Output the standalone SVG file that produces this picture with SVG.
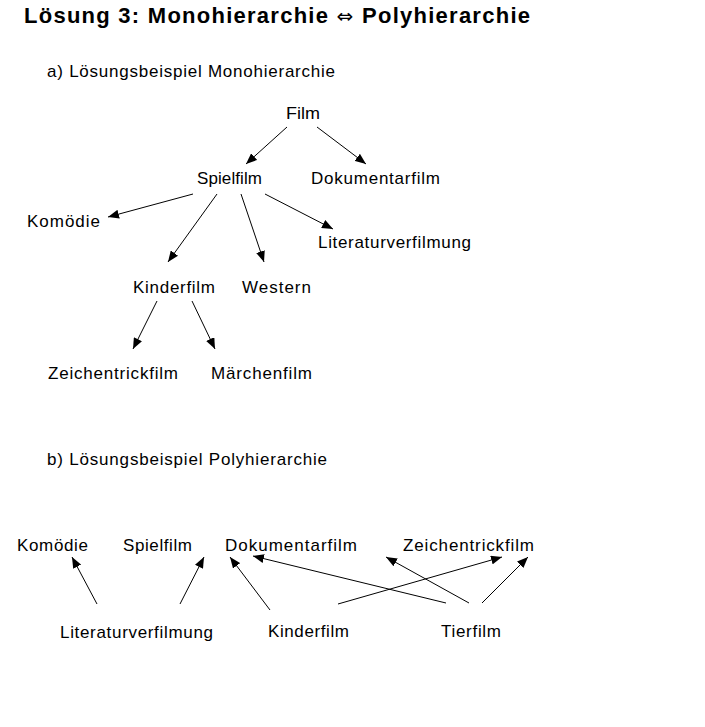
<svg xmlns="http://www.w3.org/2000/svg" width="705" height="727" viewBox="0 0 705 727">
<style>
text{font-family:"Liberation Sans",Arial,sans-serif;fill:#000}
.t{font-size:22px;font-weight:bold}
.ar{font-family:"DejaVu Sans",sans-serif;font-weight:normal;font-size:20px}
.h{font-size:17px}
.n{font-size:17px}
.c line{stroke:#000;stroke-width:1;marker-end:url(#ah)}
</style>
<defs>
<marker id="ah" markerWidth="11" markerHeight="9" refX="11" refY="4.5" orient="auto" markerUnits="userSpaceOnUse">
<path d="M0,0 L11,4.5 L0,9 z" fill="#000"/>
</marker>
</defs>
<rect width="705" height="727" fill="#fff"/>
<text class="t" x="24" y="23" textLength="506" lengthAdjust="spacing">Lösung 3: Monohierarchie <tspan class="ar">⇔</tspan> Polyhierarchie</text>
<text class="h" x="47" y="77" textLength="288" lengthAdjust="spacing">a) Lösungsbeispiel Monohierarchie</text>
<text class="h" x="47" y="465" textLength="280" lengthAdjust="spacing">b) Lösungsbeispiel Polyhierarchie</text>

<g id="a-film"><text class="n" x="286" y="119" textLength="34" lengthAdjust="spacingAndGlyphs">Film</text></g>
<g id="a-spielfilm"><text class="n" x="197" y="184" textLength="65" lengthAdjust="spacing">Spielfilm</text></g>
<g id="a-dokumentarfilm"><text class="n" x="311" y="184" textLength="129" lengthAdjust="spacing">Dokumentarfilm</text></g>
<g id="a-komoedie"><text class="n" x="27" y="227" textLength="73" lengthAdjust="spacing">Komödie</text></g>
<g id="a-literaturverfilmung"><text class="n" x="318" y="248" textLength="153" lengthAdjust="spacing">Literaturverfilmung</text></g>
<g id="a-kinderfilm"><text class="n" x="133" y="293" textLength="82" lengthAdjust="spacing">Kinderfilm</text></g>
<g id="a-western"><text class="n" x="242" y="293" textLength="69" lengthAdjust="spacing">Western</text></g>
<g id="a-zeichentrickfilm"><text class="n" x="48" y="379" textLength="130" lengthAdjust="spacing">Zeichentrickfilm</text></g>
<g id="a-maerchenfilm"><text class="n" x="211" y="379" textLength="101" lengthAdjust="spacing">Märchenfilm</text></g>

<g id="b-komoedie"><text class="n" x="17" y="551" textLength="71" lengthAdjust="spacing">Komödie</text></g>
<g id="b-spielfilm"><text class="n" x="123" y="551" textLength="69" lengthAdjust="spacing">Spielfilm</text></g>
<g id="b-dokumentarfilm"><text class="n" x="225" y="551" textLength="132" lengthAdjust="spacing">Dokumentarfilm</text></g>
<g id="b-zeichentrickfilm"><text class="n" x="403" y="551" textLength="131" lengthAdjust="spacing">Zeichentrickfilm</text></g>
<g id="b-literaturverfilmung"><text class="n" x="60" y="638" textLength="153" lengthAdjust="spacing">Literaturverfilmung</text></g>
<g id="b-kinderfilm"><text class="n" x="268" y="637" textLength="81" lengthAdjust="spacing">Kinderfilm</text></g>
<g id="b-tierfilm"><text class="n" x="441" y="637" textLength="60" lengthAdjust="spacing">Tierfilm</text></g>

<g id="connectors" class="c">
<line x1="287" y1="127" x2="246" y2="164"/>
<line x1="317" y1="127" x2="366" y2="164"/>
<line x1="193" y1="194" x2="108" y2="217"/>
<line x1="265" y1="194" x2="333" y2="229"/>
<line x1="217" y1="194" x2="168" y2="262"/>
<line x1="241" y1="194" x2="264" y2="262"/>
<line x1="157" y1="301" x2="133" y2="349"/>
<line x1="192" y1="301" x2="215" y2="349"/>

<line x1="97" y1="604" x2="72" y2="557"/>
<line x1="180" y1="604" x2="204" y2="557"/>
<line x1="270" y1="610" x2="230" y2="557"/>
<line x1="446" y1="603" x2="253" y2="556"/>
<line x1="338" y1="604" x2="502" y2="557"/>
<line x1="469" y1="603" x2="386" y2="557"/>
<line x1="482" y1="603" x2="528" y2="557"/>
</g>
</svg>
